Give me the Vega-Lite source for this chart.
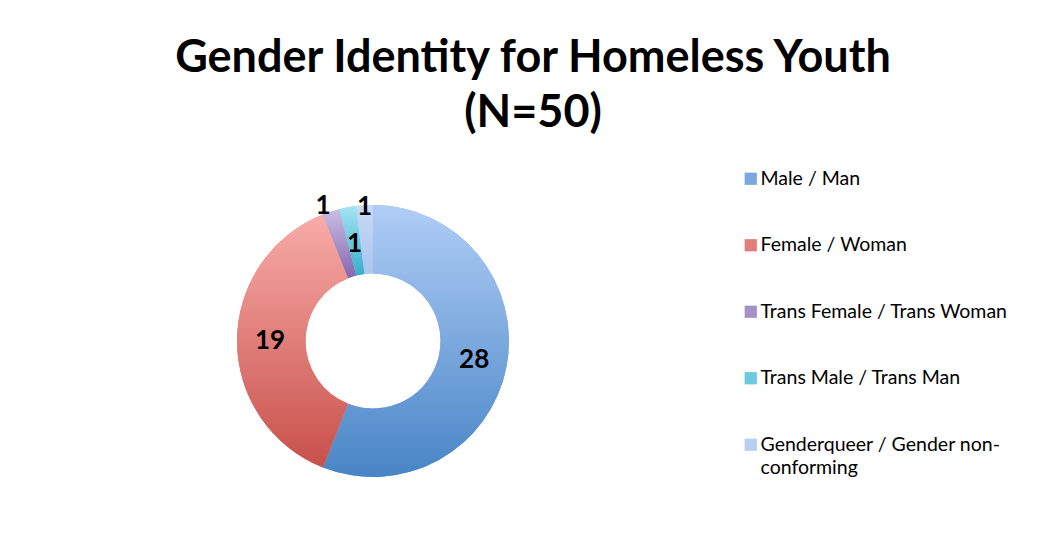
{
  "$schema": "https://vega.github.io/schema/vega-lite/v6.json",
  "width": 290,
  "height": 290,
  "autosize": "none",
  "padding": {"left": 228, "top": 196, "right": 546, "bottom": 51},
  "background": "white",
  "title": {
    "text": ["Gender Identity for Homeless Youth", "(N=50)"],
    "font": "Lato",
    "fontSize": 45,
    "fontWeight": "bold",
    "color": "black",
    "lineHeight": 55,
    "anchor": "middle",
    "dx": 160,
    "offset": 33
  },
  "data": {
    "values": [
      {"identity": "Male / Man", "count": 28, "order": 1},
      {"identity": "Female / Woman", "count": 19, "order": 2},
      {"identity": "Trans Female / Trans Woman", "count": 1, "order": 3},
      {"identity": "Trans Male / Trans Man", "count": 1, "order": 4},
      {"identity": "Genderqueer / Gender non-conforming", "count": 1, "order": 5}
    ]
  },
  "encoding": {
    "theta": {"field": "count", "type": "quantitative", "stack": true},
    "order": {"field": "order", "type": "quantitative"}
  },
  "layer": [
    {
      "mark": {"type": "arc", "outerRadius": 136, "innerRadius": 67.5},
      "encoding": {
        "color": {
          "field": "identity",
          "type": "nominal",
          "sort": ["Male / Man", "Female / Woman", "Trans Female / Trans Woman", "Trans Male / Trans Man", "Genderqueer / Gender non-conforming"],
          "scale": {
            "domain": ["Male / Man", "Female / Woman", "Trans Female / Trans Woman", "Trans Male / Trans Man", "Genderqueer / Gender non-conforming"],
            "range": ["#7ba7e0", "#e07f79", "#a690c8", "#6ccadf", "#b8cff2"]
          },
          "legend": {
            "title": null,
            "orient": "none",
            "legendX": 513,
            "legendY": -27,
            "padding": 0,
            "symbolType": "square",
            "symbolSize": 150,
            "symbolStrokeWidth": 0,
            "labelFont": "Lato",
            "labelFontSize": 19.5,
            "labelColor": "black",
            "labelOffset": 0,
            "labelLimit": 400,
            "rowPadding": 45.5,
            "labelExpr": "datum.label == 'Genderqueer / Gender non-conforming' ? ['Genderqueer / Gender non-', 'conforming'] : datum.label",
            "encode": {
              "labels": {
                "update": {
                  "lineHeight": {"value": 23}
                }
              }
            }
          }
        }
      }
    },
    {
      "mark": {"type": "arc", "outerRadius": 136, "innerRadius": 67.5},
      "encoding": {
        "fill": {
          "condition": [
            {"test": "datum.identity === 'Male / Man'", "value": {"gradient": "linear", "x1": 0, "y1": 0, "x2": 0, "y2": 1, "stops": [{"offset": 0, "color": "#b0cdf6"}, {"offset": 1, "color": "#4885c6"}]}},
            {"test": "datum.identity === 'Female / Woman'", "value": {"gradient": "linear", "x1": 0, "y1": 0, "x2": 0, "y2": 1, "stops": [{"offset": 0, "color": "#f8aca8"}, {"offset": 1, "color": "#c8504b"}]}},
            {"test": "datum.identity === 'Trans Female / Trans Woman'", "value": {"gradient": "linear", "x1": 0, "y1": 0, "x2": 0, "y2": 1, "stops": [{"offset": 0, "color": "#cbbde6"}, {"offset": 1, "color": "#8466ae"}]}},
            {"test": "datum.identity === 'Trans Male / Trans Man'", "value": {"gradient": "linear", "x1": 0, "y1": 0, "x2": 0, "y2": 1, "stops": [{"offset": 0, "color": "#a5e4f3"}, {"offset": 1, "color": "#38aec8"}]}}
          ],
          "value": {"gradient": "linear", "x1": 0, "y1": 0, "x2": 0, "y2": 1, "stops": [{"offset": 0, "color": "#c7daf7"}, {"offset": 1, "color": "#aac5ee"}]}
        }
      }
    },
    {
      "mark": {"type": "text", "radius": 103, "font": "Lato", "fontSize": 26, "fontWeight": "bold", "color": "black"},
      "encoding": {
        "text": {
          "condition": {"test": "datum.identity === 'Male / Man' || datum.identity === 'Female / Woman'", "field": "count", "type": "quantitative"},
          "value": ""
        }
      }
    },
    {
      "mark": {"type": "text", "radius": 99, "font": "Lato", "fontSize": 26, "fontWeight": "bold", "color": "black"},
      "encoding": {
        "text": {
          "condition": {"test": "datum.identity === 'Trans Male / Trans Man'", "field": "count", "type": "quantitative"},
          "value": ""
        }
      }
    },
    {
      "mark": {"type": "text", "radius": 142, "dx": -6, "font": "Lato", "fontSize": 26, "fontWeight": "bold", "color": "black"},
      "encoding": {
        "text": {
          "condition": {"test": "datum.identity === 'Trans Female / Trans Woman'", "field": "count", "type": "quantitative"},
          "value": ""
        }
      }
    },
    {
      "mark": {"type": "text", "radius": 134, "font": "Lato", "fontSize": 26, "fontWeight": "bold", "color": "black"},
      "encoding": {
        "text": {
          "condition": {"test": "datum.identity === 'Genderqueer / Gender non-conforming'", "field": "count", "type": "quantitative"},
          "value": ""
        }
      }
    }
  ],
  "config": {
    "view": {"stroke": null},
    "font": "Lato"
  }
}
